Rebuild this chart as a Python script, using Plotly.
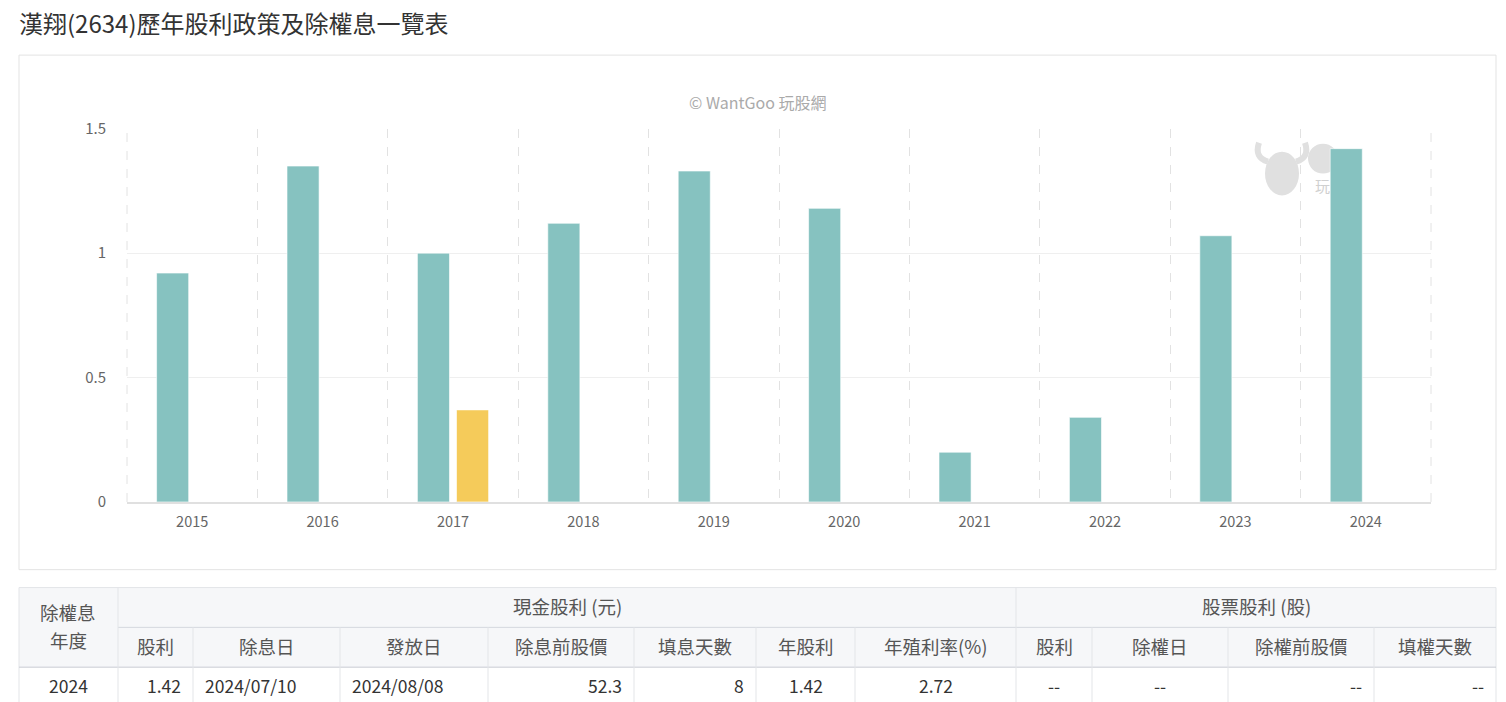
import plotly.graph_objects as go

# ---- data ----
years = ["2015", "2016", "2017", "2018", "2019", "2020", "2021", "2022", "2023", "2024"]
cash_dividend = [0.92, 1.35, 1.0, 1.12, 1.33, 1.18, 0.2, 0.34, 1.07, 1.42]
stock_dividend = [None, None, 0.37, None, None, None, None, None, None, None]
y_ticks = [0, 0.5, 1, 1.5]
y_tick_labels = ["0", "0.5", "1", "1.5"]

title_text = "漢翔(2634)歷年股利政策及除權息一覽表"
watermark_text = "© WantGoo 玩股網"

table_group_headers = ["現金股利 (元)", "股票股利 (股)"]
table_first_header = ["除權息", "年度"]
table_sub_headers = ["股利", "除息日", "發放日", "除息前股價", "填息天數", "年股利", "年殖利率(%)",
                     "股利", "除權日", "除權前股價", "填權天數"]
table_row = ["2024", "1.42", "2024/07/10", "2024/08/08", "52.3", "8", "1.42", "2.72",
             "--", "--", "--", "--"]

# ---- layout constants ----
W, H = 1506, 702
FONT = "Noto Sans CJK TC, Noto Sans, sans-serif"
TEAL = "#86c2c0"
YELLOW = "#f5cb5a"
LOGO_C = "#e0e0e0"

# vertical calibration of the capture (rendered = A * layout + B)
A, B = 0.9747, 9.7


def px(x):
    return x / W


def py(y):
    return 1 - ((y - B) / A) / H


def pt(x, y):
    return f"{px(x):.5f},{py(y):.5f}"


fig = go.Figure()
fig.add_trace(go.Bar(x=years, y=cash_dividend, name="現金股利",
                     marker=dict(color=TEAL, line=dict(color="rgba(255,255,255,0.6)", width=1)),
                     hoverinfo="x+y"))
fig.add_trace(go.Bar(x=years, y=stock_dividend, name="股票股利",
                     marker=dict(color=YELLOW, line=dict(color="rgba(255,255,255,0.6)", width=1)),
                     hoverinfo="x+y"))

shapes = []
annotations = []

# chart card border
shapes.append(dict(type="rect", xref="paper", yref="paper", x0=px(19), x1=px(1496), y0=py(570), y1=py(53),
                   line=dict(color="#e3e3e3", width=1), fillcolor="rgba(0,0,0,0)", layer="below"))

# outer dashed boundary lines of the plot area
for xe in (127, 1431):
    shapes.append(dict(type="line", xref="paper", yref="paper", x0=px(xe), x1=px(xe), y0=py(502), y1=py(127),
                       line=dict(color="#e2e2e2", width=1, dash="dash"), layer="below"))

# faint logo approximation (cow head + W badge)
shapes.append(dict(type="circle", xref="paper", yref="paper", x0=px(1265), x1=px(1299), y0=py(194), y1=py(150),
                   line=dict(width=0), fillcolor=LOGO_C, layer="below"))
shapes.append(dict(type="path", xref="paper", yref="paper",
                   path=f"M {pt(1268, 160)} Q {pt(1254, 156)} {pt(1259, 141)}",
                   line=dict(color=LOGO_C, width=6), layer="below"))
shapes.append(dict(type="path", xref="paper", yref="paper",
                   path=f"M {pt(1296, 160)} Q {pt(1310, 156)} {pt(1305, 141)}",
                   line=dict(color=LOGO_C, width=6), layer="below"))
shapes.append(dict(type="circle", xref="paper", yref="paper", x0=px(1308), x1=px(1338), y0=py(172), y1=py(142),
                   line=dict(width=0), fillcolor=LOGO_C, layer="below"))
annotations.append(dict(x=px(1322), y=py(184), xref="paper", yref="paper", text="玩", showarrow=False,
                        font=dict(family=FONT, size=15, color="#d0d0d0"), xanchor="center", yanchor="middle"))

# title and watermark
annotations.append(dict(x=px(17), y=py(20), xref="paper", yref="paper", text=title_text, showarrow=False,
                        font=dict(family=FONT, size=24, color="#333333"), xanchor="left", yanchor="middle"))
annotations.append(dict(x=px(757), y=py(100), xref="paper", yref="paper", text=watermark_text, showarrow=False,
                        font=dict(family=FONT, size=16, color="#aaaaaa"), xanchor="center", yanchor="middle"))

# ---- table ----
col_edges = [19, 118, 193, 340, 488, 634, 756, 855, 1016, 1092, 1228, 1374, 1496]
row_top, row_mid, row_hdr_end, row_bottom = 588, 628, 668, 712
grid_c = "#e3e5e8"

shapes.append(dict(type="rect", xref="paper", yref="paper", x0=px(19), x1=px(1496), y0=py(row_hdr_end), y1=py(row_top),
                   line=dict(width=0), fillcolor="#f6f7f9", layer="below"))
shapes.append(dict(type="rect", xref="paper", yref="paper", x0=px(19), x1=px(1496), y0=py(row_bottom), y1=py(row_top),
                   line=dict(color=grid_c, width=1), fillcolor="rgba(0,0,0,0)", layer="above"))
shapes.append(dict(type="line", xref="paper", yref="paper", x0=px(118), x1=px(1496), y0=py(row_mid), y1=py(row_mid),
                   line=dict(color="#d5d8de", width=1)))
shapes.append(dict(type="line", xref="paper", yref="paper", x0=px(19), x1=px(1496), y0=py(row_hdr_end), y1=py(row_hdr_end),
                   line=dict(color="#c9ccd3", width=1)))
for xe in col_edges[1:-1]:
    top = row_top if xe in (118, 1016) else row_mid
    shapes.append(dict(type="line", xref="paper", yref="paper", x0=px(xe), x1=px(xe), y0=py(row_bottom), y1=py(top),
                       line=dict(color=grid_c, width=1)))

hdr_font = dict(family=FONT, size=18.5, color="#555555")
cell_font = dict(family=FONT, size=17.5, color="#333333")

annotations.append(dict(x=px(68), y=py(613), xref="paper", yref="paper", text=table_first_header[0], showarrow=False,
                        font=hdr_font, xanchor="center", yanchor="middle"))
annotations.append(dict(x=px(68), y=py(641), xref="paper", yref="paper", text=table_first_header[1], showarrow=False,
                        font=hdr_font, xanchor="center", yanchor="middle"))
annotations.append(dict(x=px((118 + 1016) / 2), y=py(607), xref="paper", yref="paper", text=table_group_headers[0],
                        showarrow=False, font=hdr_font, xanchor="center", yanchor="middle"))
annotations.append(dict(x=px((1016 + 1496) / 2), y=py(607), xref="paper", yref="paper", text=table_group_headers[1],
                        showarrow=False, font=hdr_font, xanchor="center", yanchor="middle"))
for i, h in enumerate(table_sub_headers):
    x0, x1 = col_edges[i + 1], col_edges[i + 2]
    annotations.append(dict(x=px((x0 + x1) / 2), y=py(647), xref="paper", yref="paper", text=h, showarrow=False,
                            font=hdr_font, xanchor="center", yanchor="middle"))

aligns = ["center", "right", "left", "left", "right", "right", "center", "center",
          "center", "center", "right", "right"]
for i, v in enumerate(table_row):
    x0, x1 = col_edges[i], col_edges[i + 1]
    a = aligns[i]
    if a == "center":
        xx = (x0 + x1) / 2
    elif a == "right":
        xx = x1 - 10
    else:
        xx = x0 + 10
    annotations.append(dict(x=px(xx), y=py(686), xref="paper", yref="paper", text=v, showarrow=False,
                            font=cell_font, xanchor=a, yanchor="middle"))

fig.update_layout(
    width=W, height=H, autosize=False,
    margin=dict(l=0, r=0, t=0, b=0),
    paper_bgcolor="white", plot_bgcolor="white",
    barmode="group", bargap=0.4, bargroupgap=0.18,
    showlegend=False,
    font=dict(family=FONT, color="#666666"),
    shapes=shapes, annotations=annotations,
    xaxis=dict(domain=[px(127), px(1431)], type="category", tickson="boundaries",
               showgrid=True, gridcolor="#e2e2e2", griddash="dash", gridwidth=1,
               showline=True, linecolor="#e0e0e0", linewidth=2,
               ticks="", ticklabelstandoff=6,
               tickfont=dict(family=FONT, size=14.5, color="#666666"),
               fixedrange=True),
    yaxis=dict(domain=[py(502), py(127)], range=[0, 1.5], tickvals=y_ticks, ticktext=y_tick_labels,
               showgrid=True, gridcolor="#efefef", gridwidth=1, zeroline=False,
               ticks="", ticklabelstandoff=20,
               tickfont=dict(family=FONT, size=15, color="#666666"),
               fixedrange=True),
)

fig.write_html("out.html")
